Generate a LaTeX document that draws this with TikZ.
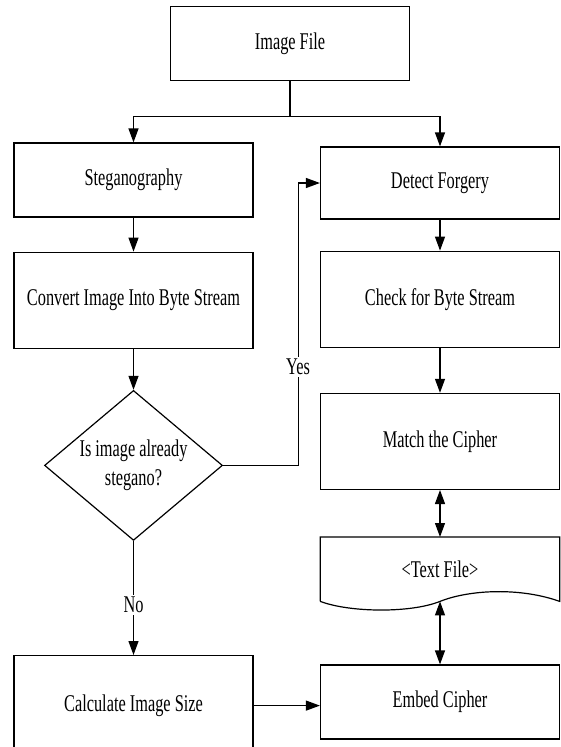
\documentclass[tikz,border=0pt]{standalone}
\usepackage{fontspec}
\setmainfont{Liberation Serif}[FakeStretch=0.68]
\usetikzlibrary{arrows.meta,positioning,shapes.geometric}

\begin{document}
\begin{tikzpicture}[
  >={Triangle[length=14pt,width=10pt]},
  font=\fontsize{24}{29}\selectfont,
  box/.style      = {draw, line width=1.2pt, minimum width=239pt, minimum height=74pt, align=center, inner sep=0pt},
  tall/.style     = {box, minimum height=96pt},
  decision/.style = {draw, diamond, line width=1.2pt, aspect=1.19, minimum width=178pt, minimum height=150pt, inner sep=0pt, align=center},
  doc/.style      = {minimum width=239pt, minimum height=64pt, inner sep=0pt, align=center},
  line/.style     = {->, line width=1.2pt},
  lbl/.style      = {fill=white, inner sep=2pt}
]

\useasboundingbox (0,0) rectangle (561pt,-747pt);

% Nodes
\node[box]  (img)    at (290pt,-43.5pt) {Image File};
\node[box]  (steg)   at (133.5pt,-180pt) {Steganography};
\node[box, minimum height=72pt] (detect) at (440pt,-183pt) {Detect Forgery};

% Left column
\node[tall, below=34pt of steg]  (conv) {Convert Image Into Byte Stream};
\node[decision, below=41pt of conv] (dec) {Is image already\\stegano?};
\node[box, minimum height=100pt, below=114pt of dec] (calc) {Calculate Image Size};

% Right column
\node[tall, below=31pt of detect] (check) {Check for Byte Stream};
\node[tall, below=45pt of check]  (match) {Match the Cipher};
\node[doc, below=47pt of match]   (txt)   {<Text File>};
\node[box, below=63pt of txt]     (embed) {Embed Cipher};

% Text file outline with wavy bottom
\draw[line width=1.2pt] (txt.south west) -- (txt.north west) -- (txt.north east) -- (txt.south east)
  .. controls +(-39pt,14pt) and +(30pt,12pt) .. (txt.south)
  .. controls +(-30pt,-12pt) and +(29pt,-11pt) .. (txt.south west);

% Split from image file
\draw[line width=1.2pt] (img.south) -- ++(0,-35pt) coordinate (split);
\draw[line] (split) -| (steg.north);
\draw[line] (split) -| (detect.north);

% Left path
\draw[line] (steg) -- (conv);
\draw[line] (conv) -- (dec);
\draw[line] (dec.south) -- node[lbl, pos=0.56] {No} (calc.north);
\draw[line] (dec.east) -- ++(75pt,0) coordinate (yb) -- (yb |- detect.west) node[lbl, pos=0.35] {Yes} -- (detect.west);

% Right path
\draw[line] (check) -- (match);
\draw[line, <->] (match) -- (txt.north);
\draw[line, <->] (txt.south) -- (embed.north);
\draw[line] (calc.east) -- (calc.east -| embed.west);
\draw[line] (detect) -- (check);

\end{tikzpicture}
\end{document}
